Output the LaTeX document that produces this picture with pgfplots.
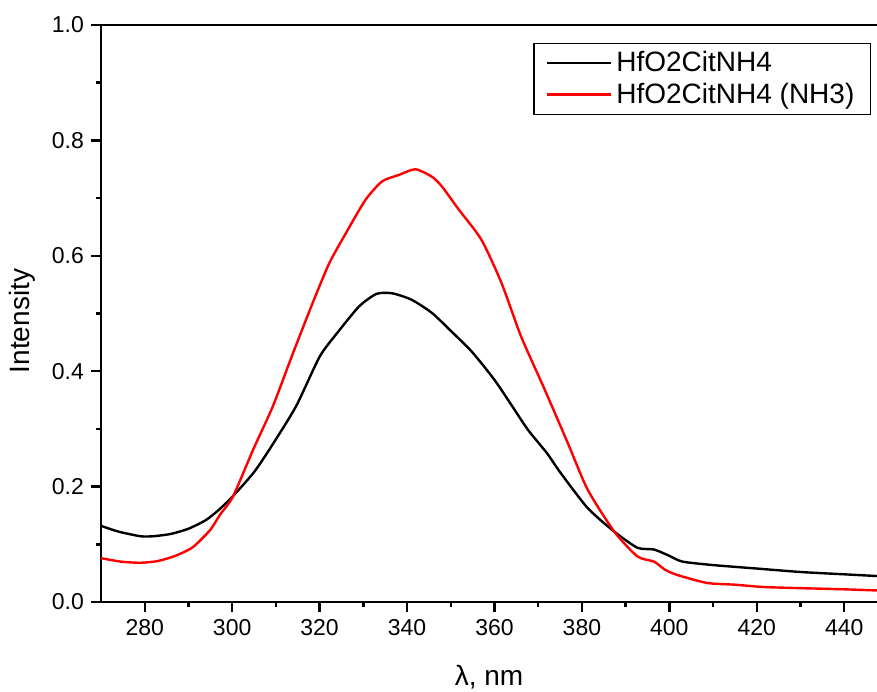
\documentclass[border=0pt]{standalone}
\usepackage{fontspec}
\setmainfont{Liberation Sans}
\usepackage{pgfplots}
\pgfplotsset{compat=1.18}
\begin{document}
\begin{tikzpicture}
\begin{axis}[
  at={(0,0)}, anchor=south west,
  scale only axis,
  width=388pt, height=288.5pt,
  xmin=270, xmax=447.5, ymin=0, ymax=1.0,
  axis x line*=box, axis y line*=left,
  xtick pos=bottom, ytick pos=left,
  xtick={280,300,...,440}, ytick={0,0.2,...,1.0},
  minor x tick num=1, minor y tick num=1,
  tick align=outside,
  major tick length=5pt, minor tick length=2.6pt,
  every tick/.style={black, line width=1.2pt},
  axis line style={line width=1.3pt},
  /pgf/number format/assume math mode=true,
  /pgf/number format/.cd, fixed, fixed zerofill, precision=1, /pgfplots/.cd,
  xticklabel style={/pgf/number format/precision=0, /pgf/number format/fixed zerofill=false},
  tick label style={font=\fontsize{11.5}{13}\selectfont},
  xlabel={λ, nm}, ylabel={Intensity},
  label style={font=\fontsize{14}{16}\selectfont},
  xlabel style={at={(axis description cs:0.5,-0.1455)}, anchor=base},
  ylabel style={at={(axis description cs:-0.102,0.487)}, anchor=center},
  legend style={at={(axis description cs:1,1)}, anchor=north east, xshift=-3pt, yshift=-9pt,
    draw=black, line width=0.6pt, font=\fontsize{14}{17}\selectfont, inner ysep=2pt, inner xsep=6pt,
    row sep=0pt, cells={anchor=west}},
  legend image code/.code={\draw[#1, line width=1.2pt] (0pt,0pt) -- (32pt,0pt);},
]
\addplot[black, line width=1.2pt, smooth, tension=0.4] coordinates {
(270,0.132) (274,0.122) (279,0.114) (282,0.114) (286,0.118) (290,0.127) (294,0.142)
(297,0.160) (300,0.182) (305,0.225) (309,0.270) (314.6,0.339) (320,0.425) (324,0.466)
(329,0.512) (333,0.534) (336.6,0.535) (341,0.524) (345.7,0.501) (350,0.470) (354.8,0.434)
(360,0.385) (364,0.340) (367.7,0.298) (372,0.258) (375.2,0.223) (381.3,0.163) (387.4,0.122)
(392.7,0.094) (396.5,0.091) (400,0.080) (403,0.070) (410,0.064) (420,0.058) (430,0.052)
(440,0.048) (447.5,0.045)
};
\addlegendentry{HfO2CitNH4}
\addplot[red, line width=1.2pt, smooth, tension=0.4] coordinates {
(270,0.076) (274.5,0.070) (279,0.068) (283,0.071) (287,0.080) (291,0.095) (295,0.125)
(297.2,0.151) (300.2,0.183) (304.8,0.264) (309.3,0.339) (313.9,0.431) (318.4,0.518)
(322.2,0.587) (326,0.639) (330.5,0.697) (334.3,0.729) (338.1,0.740) (341.9,0.750)
(345.7,0.737) (348,0.720) (351.75,0.681) (357,0.628) (361.6,0.553) (366.1,0.460)
(371.5,0.368) (376.8,0.275) (381.3,0.195) (387.4,0.122) (392.7,0.079) (396.5,0.070)
(399,0.056) (401.75,0.047) (408.6,0.033) (415,0.030) (421.5,0.026) (430,0.024)
(440,0.022) (447.5,0.020)
};
\addlegendentry{HfO2CitNH4 (NH3)}
\end{axis}
\pgfresetboundingbox
\path[use as bounding box] (-50.5pt,-44.5pt) rectangle (388pt,301pt);
\end{tikzpicture}
\end{document}
